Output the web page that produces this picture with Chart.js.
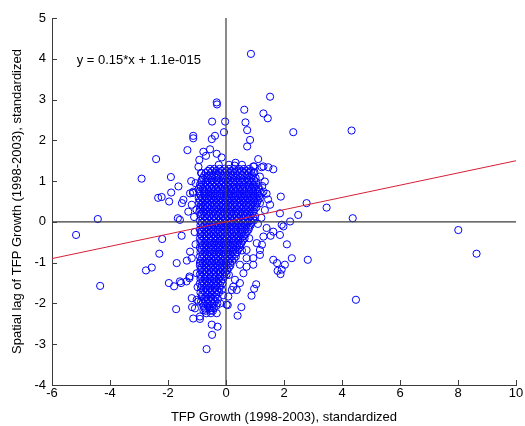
<!DOCTYPE html>
<html>
<head>
<meta charset="utf-8">
<script src="https://cdn.jsdelivr.net/npm/chart.js@4/dist/chart.umd.min.js"></script>
<style>
html,body{margin:0;padding:0;background:#fff;}
#wrap{width:525px;height:426px;}
</style>
</head>
<body>
<div id="wrap"><canvas id="c" width="525" height="426"></canvas></div>
<script>
// ---- data ----
const xTitle = "TFP Growth (1998-2003), standardized";
const yTitle = "Spatial lag of TFP Growth (1998-2003), standardized";
const equationText = "y = 0.15*x + 1.1e-015";
const fitSlope = 0.15;
const fitIntercept = 1.1e-15;
const xRange = [-6, 10];
const yRange = [-4, 5];
const xTickStep = 2;
const yTickStep = 1;

// dense core, given as rows: [y, [x values]]
const coreRows = [
  [1.30, [-0.55,-0.40,-0.22,-0.05,0.10,0.28,0.45,0.62,0.80]],
  [1.20, [-0.70,-0.52,-0.35,-0.20,-0.03,0.14,0.30,0.47,0.63,0.78,0.95]],
  [1.08, [-0.80,-0.62,-0.47,-0.30,-0.12,0.04,0.20,0.36,0.52,0.70,0.86,1.02]],
  [0.97, [-0.85,-0.70,-0.55,-0.38,-0.22,-0.06,0.10,0.26,0.42,0.58,0.75,0.90,1.05]],
  [0.86, [-0.88,-0.72,-0.58,-0.42,-0.27,-0.10,0.05,0.20,0.35,0.50,0.66,0.82,0.98,1.12]],
  [0.75, [-0.92,-0.77,-0.60,-0.45,-0.30,-0.14,0.00,0.16,0.32,0.47,0.62,0.78,0.93,1.08]],
  [0.64, [-0.87,-0.70,-0.55,-0.38,-0.22,-0.07,0.09,0.24,0.40,0.55,0.70,0.86,1.00,1.15]],
  [0.53, [-0.90,-0.75,-0.60,-0.44,-0.28,-0.12,0.04,0.18,0.34,0.50,0.65,0.80,0.96,1.10]],
  [0.42, [-0.86,-0.70,-0.54,-0.38,-0.22,-0.06,0.10,0.25,0.40,0.56,0.72,0.88,1.02]],
  [0.31, [-0.90,-0.74,-0.58,-0.42,-0.27,-0.10,0.05,0.20,0.36,0.52,0.67,0.83,0.98]],
  [0.20, [-0.85,-0.68,-0.52,-0.36,-0.20,-0.04,0.12,0.27,0.42,0.58,0.73,0.90]],
  [0.09, [-0.80,-0.64,-0.48,-0.33,-0.17,-0.01,0.15,0.30,0.46,0.62,0.78,0.94]],
  [-0.02,[-0.84,-0.68,-0.52,-0.36,-0.20,-0.05,0.10,0.26,0.42,0.58,0.74,0.88]],
  [-0.13,[-0.80,-0.63,-0.47,-0.30,-0.15,0.01,0.17,0.33,0.49,0.64,0.80]],
  [-0.24,[-0.85,-0.70,-0.54,-0.38,-0.22,-0.06,0.10,0.26,0.41,0.56,0.72]],
  [-0.35,[-0.82,-0.66,-0.50,-0.34,-0.18,-0.02,0.14,0.30,0.46,0.62]],
  [-0.46,[-0.86,-0.70,-0.54,-0.38,-0.22,-0.06,0.10,0.26,0.42,0.57]],
  [-0.57,[-0.80,-0.64,-0.48,-0.32,-0.16,0.00,0.16,0.32,0.48]],
  [-0.68,[-0.85,-0.70,-0.54,-0.38,-0.22,-0.06,0.10,0.26,0.42]],
  [-0.79,[-0.80,-0.64,-0.48,-0.32,-0.16,0.00,0.16,0.32]],
  [-0.90,[-0.84,-0.68,-0.52,-0.36,-0.20,-0.04,0.12,0.28]],
  [-1.01,[-0.80,-0.64,-0.48,-0.32,-0.16,0.00,0.15]],
  [-1.12,[-0.85,-0.70,-0.54,-0.38,-0.22,-0.06,0.10]],
  [-1.23,[-0.82,-0.66,-0.50,-0.34,-0.18,-0.02]],
  [-1.34,[-0.86,-0.70,-0.54,-0.38,-0.22,-0.06]],
  [-1.45,[-0.80,-0.64,-0.48,-0.32,-0.16]],
  [-1.56,[-0.84,-0.68,-0.52,-0.36,-0.20]],
  [-1.67,[-0.78,-0.62,-0.46,-0.30,-0.14]],
  [-1.78,[-0.82,-0.66,-0.50,-0.34]],
  [-1.89,[-0.76,-0.60,-0.44,-0.28]],
  [-2.00,[-0.80,-0.64,-0.48,-0.30]],
  [-2.12,[-0.74,-0.58,-0.42]],
  [-2.24,[-0.68,-0.52]]
];

// second, staggered layer of the dense core: [y, [x values]]
const coreRows2 = [
  [1.25, [-0.62,-0.48,-0.33,-0.14,0.02,0.19,0.37,0.54,0.71,0.87]],
  [1.14, [-0.75,-0.58,-0.41,-0.26,-0.08,0.09,0.25,0.41,0.57,0.74,0.90]],
  [1.02, [-0.84,-0.66,-0.50,-0.33,-0.17,-0.01,0.14,0.31,0.48,0.64,0.80,0.97]],
  [0.91, [-0.90,-0.77,-0.63,-0.47,-0.32,-0.15,0.00,0.14,0.30,0.45,0.61,0.77,0.93,1.06]],
  [0.80, [-0.95,-0.80,-0.66,-0.50,-0.35,-0.20,-0.04,0.10,0.26,0.41,0.57,0.72,0.88,1.02,1.14]],
  [0.69, [-0.90,-0.74,-0.60,-0.44,-0.30,-0.15,0.03,0.18,0.33,0.49,0.64,0.80,0.95,1.10]],
  [0.58, [-0.94,-0.82,-0.66,-0.51,-0.35,-0.20,-0.03,0.12,0.27,0.43,0.58,0.74,0.89,1.04,1.17]],
  [0.47, [-0.93,-0.79,-0.63,-0.47,-0.32,-0.16,0.00,0.15,0.30,0.47,0.62,0.78,0.94,1.07]],
  [0.36, [-0.88,-0.80,-0.65,-0.50,-0.34,-0.18,-0.02,0.14,0.29,0.45,0.60,0.76,0.91,1.05]],
  [0.25, [-0.92,-0.77,-0.61,-0.45,-0.29,-0.13,0.03,0.18,0.34,0.49,0.65,0.81,0.95]],
  [0.14, [-0.88,-0.73,-0.57,-0.41,-0.25,-0.09,0.07,0.22,0.37,0.53,0.69,0.85,1.00]],
  [0.03, [-0.90,-0.74,-0.58,-0.42,-0.27,-0.12,0.04,0.19,0.35,0.51,0.67,0.82,0.96]],
  [-0.08,[-0.88,-0.72,-0.56,-0.40,-0.24,-0.09,0.06,0.22,0.38,0.54,0.70,0.85]],
  [-0.19,[-0.90,-0.75,-0.60,-0.44,-0.29,-0.13,0.03,0.18,0.34,0.50,0.65,0.78]],
  [-0.30,[-0.88,-0.74,-0.58,-0.42,-0.26,-0.10,0.06,0.22,0.38,0.54,0.68]],
  [-0.41,[-0.90,-0.76,-0.60,-0.45,-0.30,-0.14,0.02,0.18,0.34,0.49,0.64]],
  [-0.52,[-0.88,-0.72,-0.56,-0.40,-0.24,-0.08,0.08,0.24,0.40,0.53]],
  [-0.63,[-0.90,-0.76,-0.60,-0.45,-0.29,-0.13,0.03,0.18,0.34,0.47]],
  [-0.74,[-0.88,-0.72,-0.56,-0.40,-0.24,-0.08,0.08,0.24,0.38]],
  [-0.85,[-0.90,-0.76,-0.60,-0.44,-0.28,-0.12,0.04,0.20,0.34]],
  [-0.96,[-0.88,-0.72,-0.56,-0.40,-0.24,-0.08,0.08,0.22]],
  [-1.07,[-0.90,-0.76,-0.60,-0.45,-0.30,-0.14,0.02,0.15]],
  [-1.18,[-0.88,-0.74,-0.58,-0.42,-0.26,-0.10,0.05]],
  [-1.29,[-0.90,-0.75,-0.58,-0.42,-0.26,-0.10,0.02]],
  [-1.40,[-0.88,-0.72,-0.56,-0.40,-0.24,-0.10]],
  [-1.51,[-0.90,-0.76,-0.60,-0.44,-0.28,-0.12]],
  [-1.62,[-0.86,-0.70,-0.54,-0.38,-0.22]],
  [-1.73,[-0.88,-0.72,-0.56,-0.40,-0.24]],
  [-1.84,[-0.84,-0.68,-0.52,-0.36]],
  [-1.95,[-0.86,-0.70,-0.54,-0.38]],
  [-2.06,[-0.78,-0.62,-0.46,-0.34]],
  [-2.18,[-0.70,-0.55,-0.45]]
];

// scattered points above the x axis: [x, y]
const upperPoints = [
  [0.86,4.12],[1.52,3.07],[-0.32,2.93],[-0.31,2.88],[0.63,2.75],[1.29,2.66],[1.44,2.54],
  [2.32,2.20],[4.33,2.24],[-0.48,2.46],[-0.03,2.46],[0.67,2.44],[0.73,2.25],[0.83,2.01],
  [0.73,1.85],[-0.07,2.20],[-1.13,2.11],[-1.13,2.05],[-0.38,2.11],[-0.49,2.03],[-1.33,1.76],
  [-0.78,1.72],[-0.55,1.78],[-0.32,1.67],[-0.15,1.58],[-2.41,1.54],[-0.92,1.52],[-0.69,1.62],
  [0.33,1.45],[1.11,1.54],[0.97,1.36],[1.23,1.34],[1.46,1.34],[1.63,1.29],[-1.90,1.10],
  [-0.84,1.19],[-1.64,0.87],[-1.13,0.74],[-1.89,0.72],[-2.22,0.61],[-1.96,0.50],[-1.47,0.54],
  [1.89,0.62],[1.23,0.70],[1.40,0.69],[2.78,0.46],[2.49,0.17],[2.21,0.01],[1.92,-0.07],
  [3.47,0.35],[-2.91,1.06],[-0.86,1.20],[-1.14,0.71],[-1.18,0.42],[-1.59,0.05],[-1.66,0.09],
  [-1.52,0.46],[-1.24,0.70],[0.94,1.36],[1.29,1.36],[1.17,1.11],[1.34,0.99],[1.29,0.74],
  [1.17,0.46],[1.52,0.42],[1.34,0.29],[1.86,0.21],[1.98,-0.11],[1.63,-0.24],[1.40,-0.15],
  [-2.34,0.59],[-1.05,0.95],[-1.02,0.30],[-1.10,0.12],[1.22,0.10],[1.10,-0.05],[-0.95,1.35],
  [0.98,1.22],[-1.20,1.00],[-1.30,0.25],[1.45,0.55],[1.25,0.88],[0.10,1.40],[0.30,1.38],
  [-0.25,1.40],[0.55,1.40]
];

// scattered points below the x axis: [x, y]
const lowerPoints = [
  [-5.17,-0.32],[-4.42,0.07],[-4.34,-1.57],[-2.76,-1.19],[-2.56,-1.12],[-2.30,-0.78],
  [-2.20,-0.42],[-1.53,-0.34],[-1.70,-1.01],[-1.97,-1.50],[-1.55,-1.50],[-1.79,-1.58],
  [-1.36,-1.46],[-1.26,-1.38],[-1.72,-2.14],[-1.13,-2.37],[-0.90,-2.38],[-0.49,-2.52],
  [-0.29,-2.57],[-0.48,-2.77],[-0.67,-3.12],[0.40,-2.30],[0.53,-2.09],[0.88,-1.81],
  [0.97,-1.64],[1.04,-1.53],[1.63,-0.93],[1.76,-1.01],[1.88,-1.28],[1.78,-1.20],
  [2.03,-1.05],[2.27,-0.89],[2.82,-0.93],[2.10,-0.55],[1.86,-0.32],[1.54,-0.34],
  [1.24,-0.56],[1.17,-0.81],[0.94,-1.05],[0.71,-0.89],[0.48,-1.05],[0.48,-1.50],
  [0.37,-1.67],[0.20,-1.67],[0.06,-2.04],[-1.17,-2.09],[-1.18,-1.87],[-1.01,-1.91],
  [4.37,0.09],[8.01,-0.20],[8.64,-0.78],[4.48,-1.91],[-1.24,-0.73],[-1.18,-0.89],
  [-0.90,-1.01],[-1.01,-1.26],[-1.26,-1.34],[-1.59,-1.46],[-0.95,-1.95],[-1.07,-2.12],
  [-0.78,-2.16],[-0.90,-2.32],[-0.32,-2.24],[0.02,-2.03],[0.08,-1.83],[0.25,-1.59],
  [0.31,-1.42],[0.60,-1.26],[0.71,-1.10],[0.94,-0.89],[1.17,-0.69],[0.71,-0.69],
  [1.06,-0.52],[1.29,-0.36],[1.92,-1.17],[-1.05,-0.55],[-1.08,-0.25],[-0.98,-1.60],
  [-0.10,-1.80],[0.10,-1.30],[0.55,-0.70],[0.80,-0.40],[-1.35,-0.95],[-0.20,-2.00]
];

// ---- build point list ----
const scatterPts = [];
coreRows.forEach(([yv, xsRow]) => xsRow.forEach(xv => scatterPts.push({x: xv, y: yv})));
coreRows2.forEach(([yv, xsRow]) => xsRow.forEach(xv => scatterPts.push({x: xv, y: yv})));
upperPoints.forEach(([xv, yv]) => scatterPts.push({x: xv, y: yv}));
lowerPoints.forEach(([xv, yv]) => scatterPts.push({x: xv, y: yv}));

const fitLine = [
  {x: xRange[0], y: fitSlope * xRange[0] + fitIntercept},
  {x: xRange[1], y: fitSlope * xRange[1] + fitIntercept}
];
const hLine = [{x: xRange[0], y: 0}, {x: xRange[1], y: 0}];
const vLine = [{x: 0, y: yRange[0]}, {x: 0, y: yRange[1]}];

const FONT = '"Liberation Sans", Arial, Helvetica, sans-serif';
const AXIS_COLOR = '#3c3c3c';

const decor = {
  id: 'decor',
  afterDraw(chart) {
    const ctx = chart.ctx;
    const xs = chart.scales.x, ys = chart.scales.y;
    ctx.save();
    ctx.strokeStyle = AXIS_COLOR;
    ctx.lineWidth = 1;
    ctx.beginPath();
    xs.ticks.forEach((t, i) => {
      const px = Math.round(xs.getPixelForTick(i)) + 0.5;
      ctx.moveTo(px, ys.bottom);
      ctx.lineTo(px, ys.bottom - 5);
    });
    ys.ticks.forEach((t, i) => {
      const py = Math.round(ys.getPixelForTick(i)) + 0.5;
      ctx.moveTo(xs.left, py);
      ctx.lineTo(xs.left + 5, py);
    });
    ctx.stroke();
    ctx.fillStyle = '#000';
    ctx.font = '13px ' + FONT;
    ctx.textAlign = 'left';
    ctx.textBaseline = 'middle';
    ctx.fillText(equationText, xs.getPixelForValue(-5.15), ys.getPixelForValue(3.97));
    ctx.restore();
  }
};

new Chart(document.getElementById('c'), {
  type: 'scatter',
  data: {
    datasets: [
      {
        label: 'data', data: scatterPts, order: 3,
        pointStyle: 'circle', pointRadius: 3.6, pointHoverRadius: 3.6,
        borderColor: 'rgb(0,0,255)', backgroundColor: 'rgba(0,0,0,0)', borderWidth: 1
      },
      {
        label: 'h', data: hLine, type: 'line', order: 1, showLine: true,
        borderColor: AXIS_COLOR, borderWidth: 1.2, pointRadius: 0, fill: false
      },
      {
        label: 'v', data: vLine, type: 'line', order: 1, showLine: true,
        borderColor: AXIS_COLOR, borderWidth: 1.2, pointRadius: 0, fill: false
      },
      {
        label: 'fit', data: fitLine, type: 'line', order: 0, showLine: true,
        borderColor: 'rgb(215,30,55)', borderWidth: 1, pointRadius: 0, fill: false
      }
    ]
  },
  options: {
    responsive: false,
    animation: false,
    events: [],
    layout: {padding: {left: 0, top: 18, right: 9, bottom: 0}},
    plugins: {legend: {display: false}, tooltip: {enabled: false}},
    scales: {
      x: {
        type: 'linear', min: xRange[0], max: xRange[1],
        afterFit(s) { s.height = 41; },
        ticks: {stepSize: xTickStep, color: '#000', font: {family: FONT, size: 13}, padding: 1, maxRotation: 0},
        grid: {display: true, drawOnChartArea: false, drawTicks: false},
        border: {display: true, color: AXIS_COLOR, width: 1},
        title: {display: true, text: xTitle, color: '#000', font: {family: FONT, size: 13}, padding: {top: 0, bottom: 1}}
      },
      y: {
        type: 'linear', min: yRange[0], max: yRange[1],
        afterFit(s) { s.width = 52; },
        ticks: {stepSize: yTickStep, color: '#000', font: {family: FONT, size: 13}, padding: 6},
        grid: {display: true, drawOnChartArea: false, drawTicks: false},
        border: {display: true, color: AXIS_COLOR, width: 1},
        title: {display: true, text: yTitle, color: '#000', font: {family: FONT, size: 13}, padding: {top: 10, bottom: 0}}
      }
    }
  },
  plugins: [decor]
});
</script>
</body>
</html>
